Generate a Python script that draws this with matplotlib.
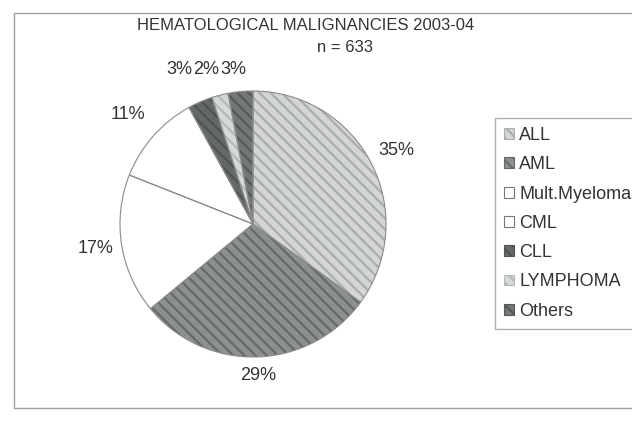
import numpy as np
import matplotlib
matplotlib.use("Agg")
import matplotlib.pyplot as plt
from matplotlib.patches import Patch, Rectangle

plt.rcParams['font.family'] = ['Liberation Sans', 'DejaVu Sans']
plt.rcParams['hatch.linewidth'] = 1.6

# data
diseases = ['ALL', 'AML', 'Mult.Myeloma', 'CML', 'CLL', 'LYMPHOMA', 'Others']
percent = [35, 29, 17, 11, 3, 2, 3]
title = 'HEMATOLOGICAL MALIGNANCIES 2003-04'
n_cases = 633

# grey scan look: base fill, stripe colour, hatch
fills = ['#d3d6d4', '#8c908e', 'white', 'white', '#646966', '#d5dad8', '#737875']
stripes = ['#a9adab', '#656a67', 'white', 'white', '#4f5451', '#b4bab7', '#555a57']
hatches = ['\\\\\\', '\\\\\\', None, None, '\\\\\\', '\\\\\\', '\\\\\\']
lab_r = [1.21, 1.14, 1.2, 1.25, 1.16, 1.16, 1.16]

W, H = 632, 426
fig = plt.figure(figsize=(W / 100, H / 100), dpi=100)

# chart area border
fig.patches.append(Rectangle((14 / W, 1 - 408 / H), 1.2, 395 / H, transform=fig.transFigure,
                             fill=False, edgecolor='#a0a0a0', lw=1.0))

cx, cy, r = 253, 224, 133
ax = fig.add_axes([(cx - r) / W, (H - cy - r) / H, 2 * r / W, 2 * r / H])

wedges, _ = ax.pie(percent, startangle=90, counterclock=False, colors=fills,
                   wedgeprops=dict(linewidth=0))
for w, st, h in zip(wedges, stripes, hatches):
    if h:
        w.set_hatch(h)
        w.set_edgecolor(st)
# outlines on top
ax.pie(percent, startangle=90, counterclock=False,
       wedgeprops=dict(fill=False, edgecolor='#8a8a8a', linewidth=0.8))

# percentage labels
for i, (w, p) in enumerate(zip(wedges, percent)):
    theta = np.deg2rad((w.theta1 + w.theta2) / 2)
    x, y = lab_r[i] * np.cos(theta), lab_r[i] * np.sin(theta)
    if i >= 4:  # crowded small slices sit side by side above the pie
        x, y = -0.35 + (i - 5) * 0.205, lab_r[i]
    ax.text(x, y, f'{p}%', ha='center', va='center', fontsize=13, color='#333333')

ax.set_xlim(-1, 1)
ax.set_ylim(-1, 1)
ax.set_aspect('equal')
ax.axis('off')

fig.text(306 / W, 1 - 25 / H, title, ha='center', va='center', fontsize=12, color='#333333')
fig.text(345 / W, 1 - 47 / H, f'n = {n_cases}', ha='center', va='center', fontsize=12,
         color='#333333')

handles = [Patch(facecolor=f, edgecolor=s if h else '#777777', hatch=h, lw=0.8)
           for f, s, h in zip(fills, stripes, hatches)]
leg = fig.legend(handles, diseases, loc='upper left', bbox_to_anchor=(495 / W, 1 - 118 / H),
                 bbox_transform=fig.transFigure, fontsize=13, frameon=True, fancybox=False,
                 borderaxespad=0, borderpad=0.5, labelspacing=0.68, handlelength=0.55,
                 handleheight=0.55, handletextpad=0.3, labelcolor='#333333')
leg.get_frame().set_edgecolor('#9a9a9a')
leg.get_frame().set_linewidth(1.0)

fig.savefig('out.png', dpi=100)
